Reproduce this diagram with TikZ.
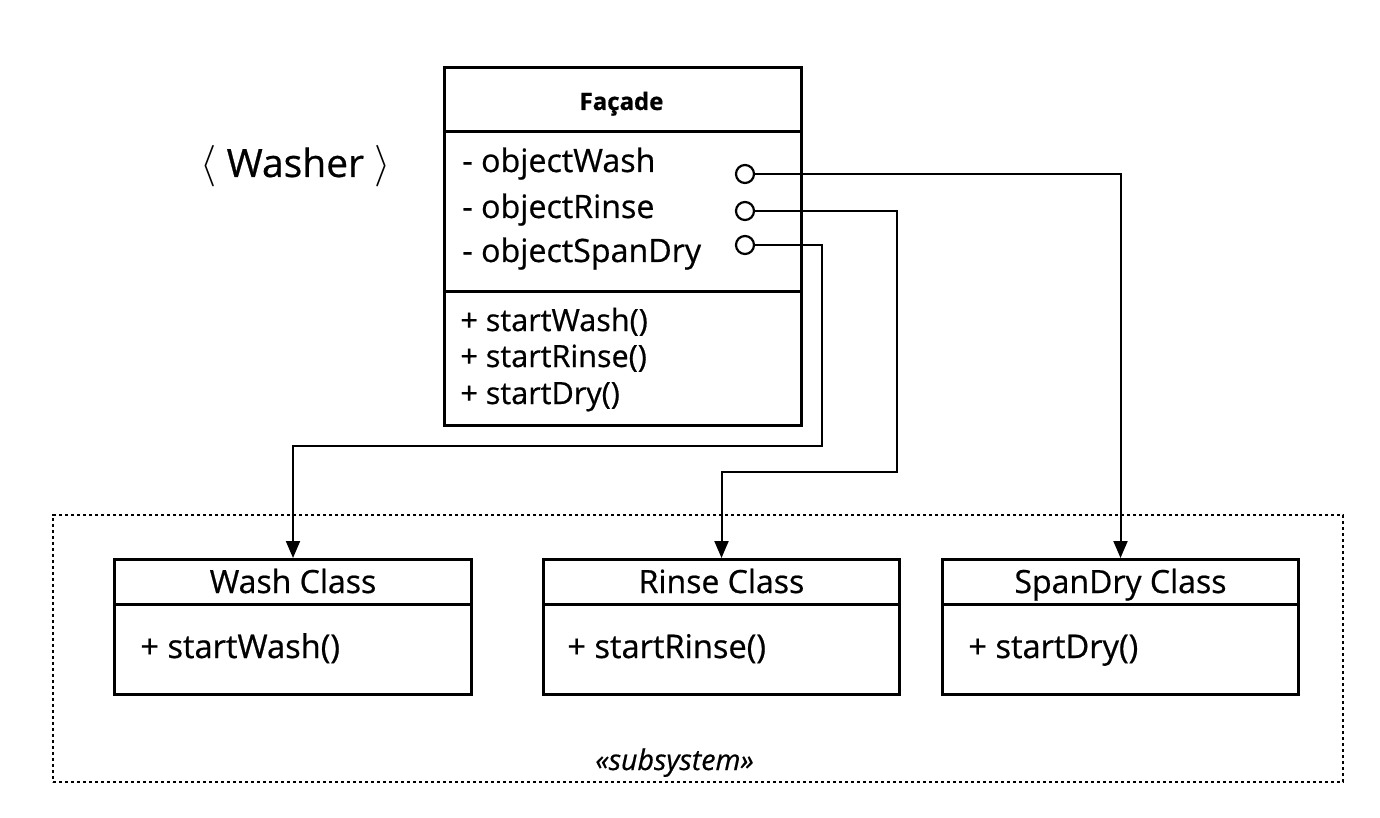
\documentclass[tikz,border=0pt]{standalone}
\usepackage{fontspec}
\setmainfont{Open Sans}[FakeBold=0.6]
\usetikzlibrary{arrows.meta}
\begin{document}
\begin{tikzpicture}[x=0.5pt,y=-0.5pt,
  box/.style={draw, line width=1.5pt, inner sep=0pt, anchor=north west},
  sep/.style={line width=1.5pt},
  attr/.style={inner sep=0pt, anchor=base west, font=\fontsize{16.1}{19}\selectfont},
  meth/.style={inner sep=0pt, anchor=base west, font=\fontsize{15.3}{18}\selectfont},
  ctitle/.style={inner sep=0pt, anchor=base, font=\fontsize{16}{19}\selectfont},
  cmeth/.style={inner sep=0pt, anchor=base west, font=\fontsize{16.3}{19}\selectfont},
  conn/.style={line width=1pt, -{Triangle[length=8.5pt,width=7pt]}},
  port/.style={circle, draw, line width=1.1pt, fill=white, minimum size=9pt, inner sep=0pt},
  frame/.style={draw, line width=1pt, dash pattern=on 1.6pt off 1.4pt, inner sep=0pt, anchor=north west}]
\useasboundingbox[fill=white] (0,0) rectangle (1380,818);

% subsystem frame
\node[frame, minimum width=645pt, minimum height=133.5pt] (subsys) at (52,514) {};
\node[inner sep=0pt, anchor=base west, font=\fontsize{14.3}{17}\selectfont\itshape] (sublbl) at (595,770) {«subsystem»};

% Washer label
\node[inner sep=0pt, anchor=base west, font=\fontsize{19.5}{22}\selectfont] (washer) at (200,177) {$\big\langle$ Washer $\big\rangle$};

% Facade class
\node[box, minimum width=178.5pt, minimum height=179pt] (fac) at (443,66) {};
\draw[sep] (fac.west |- 0,132) -- (fac.east |- 0,132);
\draw[sep] (fac.west |- 0,291) -- (fac.east |- 0,291);
\node[inner sep=0pt, anchor=base, font=\fontsize{12}{14}\selectfont\bfseries] (factitle) at (621.5,110) {Façade};
\node[attr] (a1) at (462,172) {- objectWash};
\node[attr] (a2) at (462,218) {- objectRinse};
\node[attr] (a3) at (462,262) {- objectSpanDry};
\node[meth] (m1) at (460,331) {+ startWash()};
\node[meth] (m2) at (460,367) {+ startRinse()};
\node[meth] (m3) at (460,404) {+ startDry()};

% ports
\node[port] (c1) at (745,174) {};
\node[port] (c2) at (745,211) {};
\node[port] (c3) at (745,245) {};

% subsystem classes
\node[box, minimum width=178.5pt, minimum height=67.5pt] (wash) at (113,558) {};
\draw[sep] (wash.west |- 0,604) -- (wash.east |- 0,604);
\node[ctitle] (washt) at (wash.north |- 0,593) {Wash Class};
\node[cmeth] (washm) at (140,658) {+ startWash()};

\node[box, minimum width=178pt, minimum height=67.5pt] (rinse) at (542,558) {};
\draw[sep] (rinse.west |- 0,604) -- (rinse.east |- 0,604);
\node[ctitle] (rinset) at (rinse.north |- 0,593) {Rinse Class};
\node[cmeth] (rinsem) at (567,658) {+ startRinse()};

\node[box, minimum width=178pt, minimum height=67.5pt] (dry) at (941,558) {};
\draw[sep] (dry.west |- 0,604) -- (dry.east |- 0,604);
\node[ctitle] (dryt) at (dry.north |- 0,593) {SpanDry Class};
\node[cmeth] (drym) at (968,658) {+ startDry()};

% connectors
\draw[conn] (c1.east) -| (dry.north);
\draw[conn] (c2.east) -| (897,472) -| (rinse.north);
\draw[conn] (c3.east) -| (822,446) -| (wash.north);
\end{tikzpicture}
\end{document}
